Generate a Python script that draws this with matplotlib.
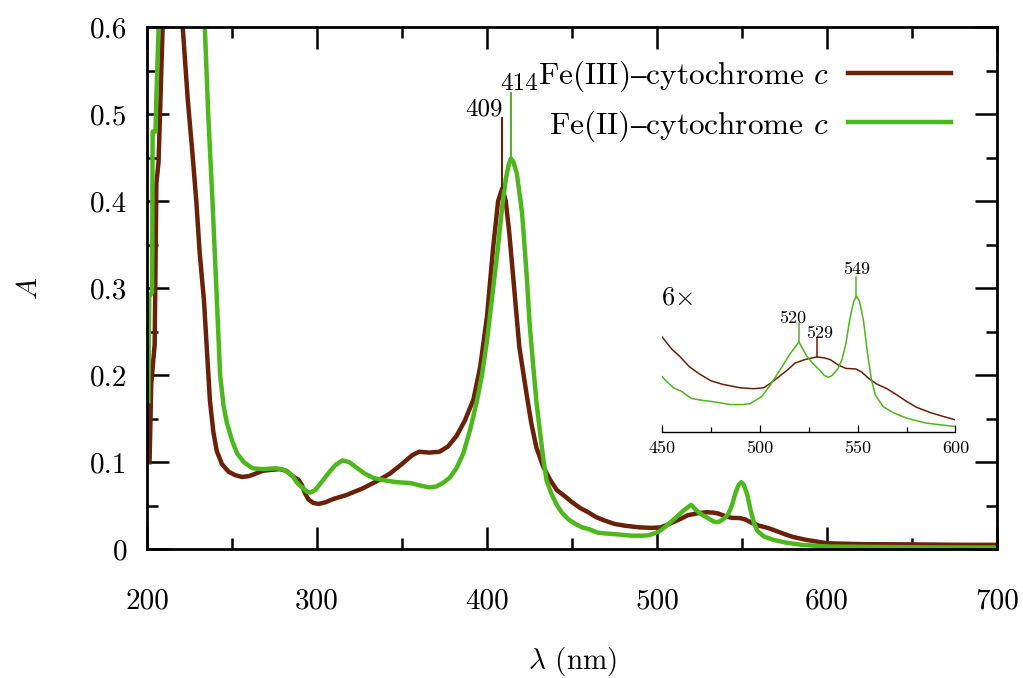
import matplotlib
matplotlib.use("Agg")
import matplotlib.pyplot as plt
from matplotlib.ticker import MultipleLocator

plt.rcParams['font.family'] = ['cmr10', 'DejaVu Serif']
plt.rcParams['mathtext.fontset'] = 'cm'
plt.rcParams['axes.unicode_minus'] = False

# Fe(III)-cytochrome c (oxidised)
wl_ox = [201.5, 202.5, 204.5, 205.5, 206.8, 209.5, 212, 216, 219, 221, 224, 226.5, 229, 231,
         233.5, 235.5, 237, 239, 241, 244, 248, 252, 256, 260, 264, 268, 272, 278, 282, 285,
         287, 289, 291, 293, 295, 298, 301, 305, 310, 317, 327, 335, 343, 350, 356, 360, 366,
         372, 377, 382, 387, 392, 396, 400, 403.5, 406.5, 409, 411, 413, 415.5, 419, 423.5,
         426, 429, 433, 437, 441, 445, 450, 455, 459, 464, 469, 475, 481, 490, 497, 502, 506,
         510, 514, 518, 523, 529, 533, 536, 540, 544, 549, 552, 556, 560, 565, 570, 575, 580,
         587, 593, 600, 620, 650, 680, 700]
a_ox = [0.10, 0.19, 0.235, 0.42, 0.445, 0.62, 0.68, 0.69, 0.65, 0.60, 0.516, 0.46, 0.40, 0.34,
        0.286, 0.22, 0.171, 0.135, 0.113, 0.098, 0.089, 0.085, 0.083, 0.084, 0.087, 0.090, 0.091,
        0.092, 0.090, 0.085, 0.082, 0.080, 0.074, 0.064, 0.057, 0.053, 0.052, 0.054, 0.058, 0.062,
        0.070, 0.078, 0.087, 0.098, 0.108, 0.112, 0.111, 0.112, 0.118, 0.130, 0.148, 0.172, 0.210,
        0.268, 0.345, 0.400, 0.415, 0.400, 0.365, 0.31, 0.232, 0.175, 0.145, 0.117, 0.095, 0.080,
        0.068, 0.062, 0.054, 0.047, 0.043, 0.037, 0.033, 0.029, 0.027, 0.025, 0.0245, 0.025, 0.028,
        0.0315, 0.035, 0.039, 0.041, 0.0425, 0.042, 0.041, 0.038, 0.036, 0.0357, 0.034, 0.030,
        0.027, 0.0245, 0.021, 0.0173, 0.014, 0.011, 0.009, 0.0068, 0.0058, 0.0055, 0.005, 0.005]

# Fe(II)-cytochrome c (reduced)
wl_red = [200.8, 201.3, 203.0, 203.3, 205.0, 205.5, 207.5, 212, 222, 230, 234, 236, 238.5, 241,
          243, 245, 247, 250, 253, 257, 262, 268, 276, 281, 284, 286, 288, 290, 292, 294, 296,
          299, 303, 307, 311, 315, 319, 323, 328, 333, 340, 347, 355, 361, 366, 370, 374, 378,
          382, 386, 390, 394, 397, 400, 403, 406, 409, 411, 412.7, 414, 415.5, 417.5, 419, 420.6,
          422, 423.5, 425, 427, 429, 431, 433, 435, 438, 441, 444, 448, 452, 456, 460, 465, 470,
          477, 485, 491, 495, 498, 501, 505, 508.5, 512, 515.3, 518, 520, 522, 524, 527, 530.6,
          533, 535, 537, 540, 542, 544, 546, 548, 549.5, 551, 553, 555, 557, 559, 563, 568, 575,
          585, 600, 630, 670, 700]
a_red = [0.17, 0.29, 0.295, 0.48, 0.48, 0.52, 0.64, 0.75, 0.78, 0.70, 0.60, 0.50, 0.40, 0.29,
         0.20, 0.165, 0.145, 0.125, 0.110, 0.100, 0.093, 0.092, 0.093, 0.091, 0.087, 0.083, 0.077,
         0.073, 0.070, 0.066, 0.065, 0.068, 0.078, 0.088, 0.097, 0.102, 0.100, 0.094, 0.087, 0.082,
         0.079, 0.077, 0.076, 0.073, 0.071, 0.072, 0.076, 0.082, 0.093, 0.110, 0.137, 0.170, 0.200,
         0.240, 0.29, 0.340, 0.395, 0.425, 0.442, 0.449, 0.445, 0.432, 0.41, 0.386, 0.35, 0.309,
         0.26, 0.214, 0.17, 0.137, 0.105, 0.079, 0.063, 0.051, 0.042, 0.034, 0.029, 0.025, 0.023,
         0.019, 0.018, 0.017, 0.0155, 0.0155, 0.016, 0.018, 0.020, 0.026, 0.032, 0.038, 0.044,
         0.048, 0.051, 0.047, 0.043, 0.039, 0.035, 0.032, 0.031, 0.032, 0.036, 0.041, 0.050, 0.064,
         0.074, 0.077, 0.074, 0.063, 0.045, 0.030, 0.021, 0.0144, 0.011, 0.0078, 0.005, 0.003,
         0.0025, 0.002, 0.002]

# the en dash goes through mathtext, cmr10 has no unicode dash
series_labels = ['Fe(III)$\\mathrm{\u2013}$cytochrome $c$', 'Fe(II)$\\mathrm{\u2013}$cytochrome $c$']
xticks = [200, 300, 400, 500, 600, 700]
yticks = [0, 0.1, 0.2, 0.3, 0.4, 0.5, 0.6]
ytick_labels = ['0', '0.1', '0.2', '0.3', '0.4', '0.5', '0.6']
inset_xticks = [450, 500, 550, 600]

# peak marks: (wavelength, peak height, top of marker line)
main_peaks_ox = [(409, 0.415, 0.495)]
main_peaks_red = [(414, 0.449, 0.524)]
inset_peaks_ox = [(529, 0.0425, 0.0535)]
inset_peaks_red = [(520, 0.051, 0.062), (549, 0.077, 0.088)]

brown = '#6b2008'
green = '#4db81c'

fig = plt.figure(figsize=(10.23, 6.78), dpi=100)
ax = fig.add_axes([0.1437, 0.190, 0.831, 0.770])

l1, = ax.plot(wl_ox, a_ox, color=brown, lw=3.2, solid_joinstyle='round')
l2, = ax.plot(wl_red, a_red, color=green, lw=3.2, solid_joinstyle='round')

for x, y0, y1 in main_peaks_ox:
    ax.plot([x, x], [y0, y1], color=brown, lw=1.5)
    ax.text(x + 0.5, y1 + 0.003, str(x), ha='right', va='baseline', fontsize=18)
for x, y0, y1 in main_peaks_red:
    ax.plot([x, x], [y0, y1], color=green, lw=1.5)
    ax.text(x - 6.5, y1 + 0.004, str(x), ha='left', va='baseline', fontsize=18)

ax.set_xlim(200, 700)
ax.set_ylim(0, 0.6)
ax.set_xticks(xticks)
ax.set_yticks(yticks)
ax.set_yticklabels(ytick_labels)
ax.xaxis.set_minor_locator(MultipleLocator(50))
ax.yaxis.set_minor_locator(MultipleLocator(0.05))
ax.tick_params(which='both', direction='in', top=True, right=True, width=1.8, labelsize=21)
ax.tick_params(which='major', length=16)
ax.tick_params(which='minor', length=8)
ax.tick_params(axis='x', pad=28)
ax.tick_params(axis='y', pad=14)
for s in ax.spines.values():
    s.set_linewidth(2)

ax.set_xlabel(r'$\lambda$ (nm)', fontsize=21, labelpad=22)
ax.set_ylabel(r'$A$', fontsize=21, labelpad=34)

ax.legend([l1, l2], series_labels, loc='upper right', bbox_to_anchor=(0.9455, 0.94),
          frameon=False, markerfirst=False, fontsize=22.5, handlelength=3.3,
          handletextpad=0.6, labelspacing=0.45, borderpad=0, borderaxespad=0)

# inset, 6x magnified
axi = fig.add_axes([0.647, 0.363, 0.287, 0.26])
axi.set_facecolor('none')
axi.plot(wl_ox, a_ox, color=brown, lw=1.1)
axi.plot(wl_red, a_red, color=green, lw=1.1)
for x, y0, y1 in inset_peaks_ox:
    axi.plot([x, x], [y0, y1], color=brown, lw=1.1)
    axi.text(x + 1.6, y1, str(x), ha='center', va='baseline', fontsize=13)
for x, y0, y1 in inset_peaks_red:
    axi.plot([x, x], [y0, y1], color=green, lw=1.1)
    axi.text(x - 3.2 if x == 520 else x + 0.5, y1 + 0.0015 if x == 549 else y1,
             str(x), ha='center', va='baseline', fontsize=13)
axi.text(449.5, 0.072, r'6$\times$', ha='left', va='baseline', fontsize=19)
axi.set_xlim(450, 600)
axi.set_ylim(0, 0.1)
axi.set_xticks(inset_xticks)
axi.xaxis.set_minor_locator(MultipleLocator(25))
axi.set_yticks([])
for side in ['left', 'top', 'right']:
    axi.spines[side].set_visible(False)
axi.spines['bottom'].set_linewidth(1)
axi.tick_params(axis='x', which='both', direction='in', width=0.9, labelsize=13, pad=6)
axi.tick_params(axis='x', which='major', length=5)
axi.tick_params(axis='x', which='minor', length=3.5)

fig.savefig('out.png', dpi=100)
